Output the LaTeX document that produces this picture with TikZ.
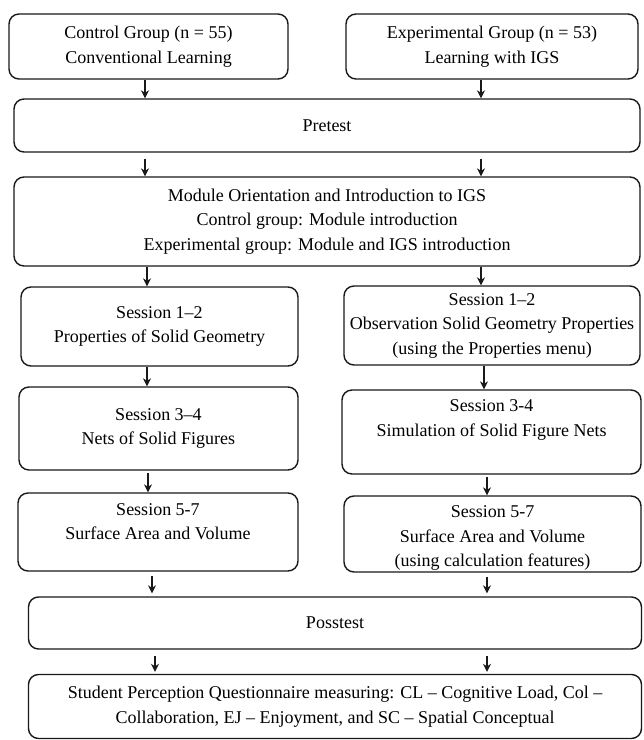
\documentclass[tikz,border=0pt]{standalone}
\usepackage{fontspec}
\setmainfont{Liberation Serif}
\usetikzlibrary{arrows.meta}
\tikzset{
  box/.style={draw=black!90, line width=1.4pt, rounded corners=10pt, inner sep=0pt, align=center, font=\fontsize{18}{24.5}\selectfont},
  txt/.style={inner sep=0pt, align=center, font=\fontsize{18}{24.5}\selectfont},
  arr/.style={draw=black!90, line width=1.3pt, -{Stealth[length=8pt,width=8pt]}}
}
\begin{document}
\begin{tikzpicture}[x=1pt,y=-1pt]
\useasboundingbox (0,0) rectangle (644,740);
% boxes
\node[box, minimum width=279pt, minimum height=65pt] (c1) at (148.5,46.5) {Control Group (n = 55)\\Conventional Learning};
\node[box, minimum width=292pt, minimum height=65pt] (e1) at (492,46.5) {Experimental Group (n = 53)\\Learning with IGS};
\node[box, minimum width=626pt, minimum height=53pt] (pre) at (327,125.5) {Pretest};
\node[box, minimum width=626pt, minimum height=89pt] (mod) at (327,221.5) {Module Orientation and Introduction to IGS\\Control group: Module introduction\\Experimental group: Module and IGS introduction};
\node[box, minimum width=277pt, minimum height=79pt] (s1L) at (159.5,326.5) {Session 1--2\\Properties of Solid Geometry};
\node[box, minimum width=296pt, minimum height=79pt] (s1R) at (492,325.5) {Session 1--2\\Observation Solid Geometry Properties\\(using the Properties menu)};
\node[box, minimum width=279pt, minimum height=83pt] (s2L) at (158.5,428.5) {Session 3--4\\Nets of Solid Figures};
\node[box, minimum width=299pt, minimum height=84pt] (s2R) at (491.5,432) {};
\node[txt] (s2Rt) at (491.5,420) {Session 3-4\\Simulation of Solid Figure Nets};
\node[box, minimum width=280pt, minimum height=78pt] (s3L) at (158,532) {};
\node[txt] (s3Lt) at (158,521.5) {Session 5-7\\Surface Area and Volume};
\node[box, minimum width=297pt, minimum height=76pt] (s3R) at (492.5,534) {};
\node[txt] (s3Rt) at (492.5,538) {Session 5-7\\Surface Area and Volume\\(using calculation features)};
\node[box, minimum width=613pt, minimum height=52pt] (post) at (335,623) {Posstest};
\node[box, minimum width=613pt, minimum height=64pt] (quest) at (335,706.5) {Student Perception Questionnaire measuring: CL -- Cognitive Load, Col --\\Collaboration, EJ -- Enjoyment, and SC -- Spatial Conceptual};
% guides
\coordinate (g145) at (145,0);
\coordinate (g147) at (147,0);
\coordinate (g148) at (148,0);
\coordinate (g152) at (152,0);
\coordinate (g155) at (155,0);
\coordinate (g481) at (481,0);
\coordinate (g484) at (484,0);
\coordinate (g487) at (487,0);
% arrows
\draw[arr] (c1.south -| g145) -- (pre.north -| g145);
\draw[arr] (e1.south -| g481) -- (pre.north -| g481);
\draw[arr, shorten <=6pt] (pre.south -| g145) -- (mod.north -| g145);
\draw[arr, shorten <=6pt] (pre.south -| g481) -- (mod.north -| g481);
\draw[arr] (mod.south -| g147) -- (s1L.north -| g147);
\draw[arr] (mod.south -| g481) -- (s1R.north -| g481);
\draw[arr] (s1L.south -| g147) -- (s2L.north -| g147);
\draw[arr] (s1R.south -| g484) -- (s2R.north -| g484);
\draw[arr, shorten <=2pt] (s2L.south -| g148) -- (s3L.north -| g148);
\draw[arr, shorten <=2pt] (s2R.south -| g487) -- (s3R.north -| g487);
\draw[arr, shorten <=4pt, shorten >=3pt] (s3L.south -| g152) -- (post.north -| g152);
\draw[arr, shorten <=4pt, shorten >=3pt] (s3R.south -| g487) -- (post.north -| g487);
\draw[arr, shorten <=6pt, shorten >=2pt] (post.south -| g155) -- (quest.north -| g155);
\draw[arr, shorten <=6pt, shorten >=2pt] (post.south -| g487) -- (quest.north -| g487);
\end{tikzpicture}
\end{document}
